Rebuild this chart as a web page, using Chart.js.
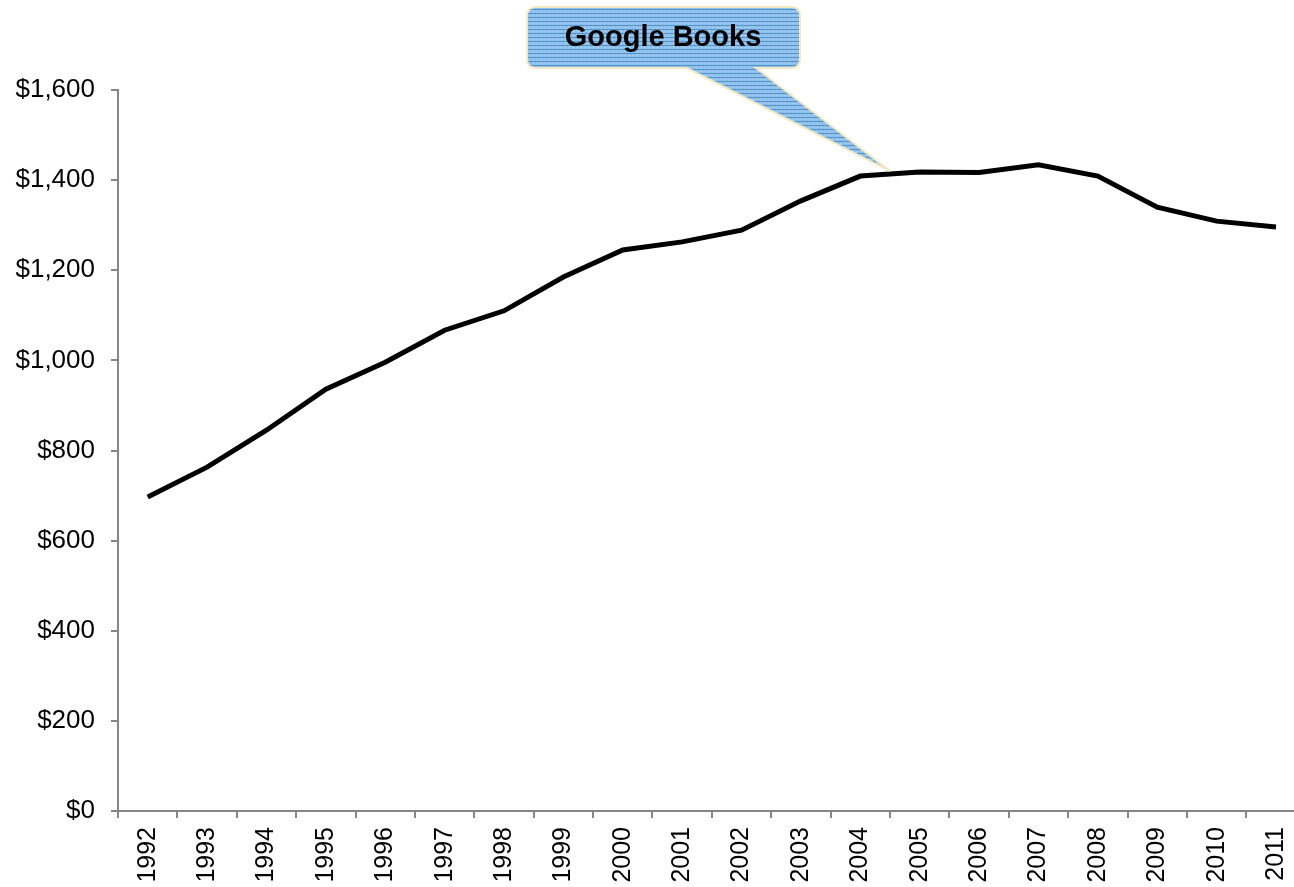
<!DOCTYPE html>
<html>
<head>
<meta charset="utf-8">
<script src="https://cdn.jsdelivr.net/npm/chart.js@4"></script>
<style>
    html, body { margin: 0; padding: 0; background: #fff; overflow: hidden; }
    #wrap { position: relative; width: 1315px; height: 887px; }
</style>
</head>
<body>
<div id="wrap"><canvas id="myChart"></canvas></div>
<script>
var years = ['1992', '1993', '1994', '1995', '1996', '1997', '1998', '1999', '2000', '2001',
    '2002', '2003', '2004', '2005', '2006', '2007', '2008', '2009', '2010', '2011'];
var spending = [697, 763, 845, 936, 996, 1067, 1110, 1185, 1245, 1263,
    1289, 1354, 1409, 1418, 1417, 1434, 1409, 1340, 1309, 1296];
var calloutText = 'Google Books';
var calloutYear = '2004';

function makePattern(ctx) {
    var c = document.createElement('canvas');
    c.width = 4; c.height = 4;
    var p = c.getContext('2d');
    p.fillStyle = '#8fc0ea';
    p.fillRect(0, 0, 4, 4);
    p.fillStyle = '#5b98d2';
    p.fillRect(0, 1, 4, 1);
    p.fillStyle = '#3f86c9';
    p.fillRect(2, 1, 1, 1);
    p.fillStyle = '#b8d8f3';
    p.fillRect(1, 3, 1, 1);
    return ctx.createPattern(c, 'repeat');
}

var calloutPlugin = {
    id: 'callout',
    afterDraw: function (chart) {
        var ctx = chart.ctx;
        var xs = chart.scales.x, ys = chart.scales.y;
        var i = years.indexOf(calloutYear);
        var tipX = (xs.getPixelForValue(i) + xs.getPixelForValue(i + 1)) / 2;
        var tipY = ys.getPixelForValue((spending[i] + spending[i + 1]) / 2) - 3;
        var bx = 527, by = 7, bw = 273, bh = 61, r = 9;
        ctx.save();
        ctx.beginPath();
        ctx.moveTo(bx + r, by);
        ctx.lineTo(bx + bw - r, by);
        ctx.quadraticCurveTo(bx + bw, by, bx + bw, by + r);
        ctx.lineTo(bx + bw, by + bh - r);
        ctx.quadraticCurveTo(bx + bw, by + bh, bx + bw - r, by + bh);
        ctx.lineTo(756, by + bh);
        ctx.lineTo(tipX, tipY);
        ctx.lineTo(687, by + bh);
        ctx.lineTo(bx + r, by + bh);
        ctx.quadraticCurveTo(bx, by + bh, bx, by + bh - r);
        ctx.lineTo(bx, by + r);
        ctx.quadraticCurveTo(bx, by, bx + r, by);
        ctx.closePath();
        ctx.fillStyle = makePattern(ctx);
        ctx.fill();
        ctx.strokeStyle = '#f2e8c4';
        ctx.lineWidth = 2;
        ctx.stroke();
        ctx.fillStyle = '#000';
        ctx.font = 'bold 29px "Liberation Sans", Arial, sans-serif';
        ctx.textAlign = 'center';
        ctx.textBaseline = 'middle';
        ctx.fillText(calloutText, 663, 38);
        ctx.restore();
    }
};

var ctx = document.getElementById('myChart').getContext('2d');
var myChart = new Chart(ctx, {
    type: 'line',
    data: {
        labels: years,
        datasets: [{
            data: spending,
            borderColor: '#000',
            borderWidth: 5,
            pointRadius: 0,
            tension: 0,
            fill: false
        }]
    },
    options: {
        responsive: true,
        maintainAspectRatio: false,
        animation: false,
        layout: {padding: {top: 90, left: 0, right: 0, bottom: 0}},
        plugins: {
            legend: {display: false},
            tooltip: {enabled: false}
        },
        scales: {
            x: {
                offset: true,
                grid: {
                    offset: true,
                    drawOnChartArea: false,
                    drawTicks: true,
                    tickLength: 7,
                    color: '#868686',
                    lineWidth: 2
                },
                border: {color: '#868686', width: 2},
                ticks: {
                    minRotation: 90,
                    maxRotation: 90,
                    autoSkip: false,
                    color: '#000',
                    padding: 9,
                    font: {family: '"Liberation Sans", Arial, sans-serif', size: 25}
                },
                afterFit: function (axis) { axis.height = 76; }
            },
            y: {
                min: 0,
                max: 1600,
                grid: {
                    drawOnChartArea: false,
                    drawTicks: true,
                    tickLength: 7,
                    color: '#868686',
                    lineWidth: 2
                },
                border: {color: '#868686', width: 2},
                ticks: {
                    stepSize: 200,
                    color: '#000',
                    padding: 16,
                    font: {family: '"Liberation Sans", Arial, sans-serif', size: 26},
                    callback: function (v) {
                        return '$' + v.toLocaleString('en-US');
                    }
                },
                afterFit: function (axis) { axis.width = 118; }
            }
        }
    },
    plugins: [calloutPlugin]
});
</script>
</body>
</html>
